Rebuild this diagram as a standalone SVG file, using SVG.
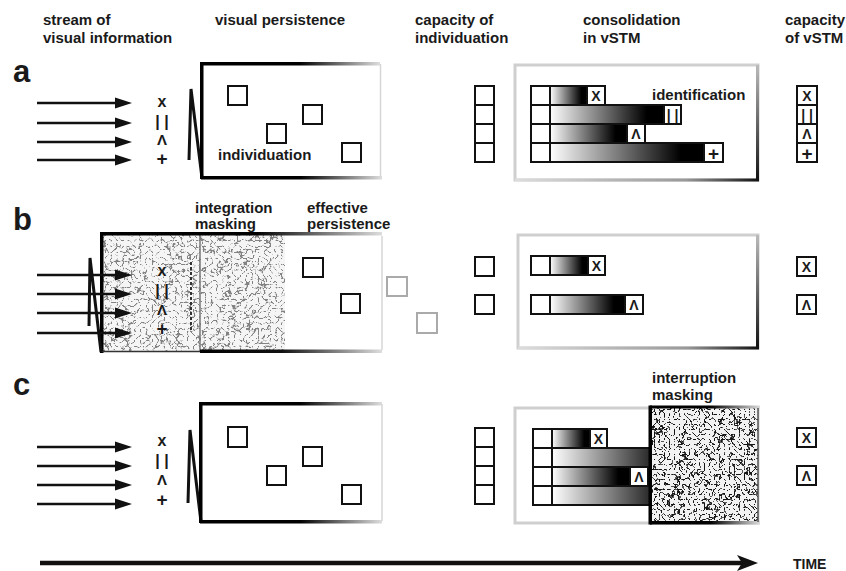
<svg xmlns="http://www.w3.org/2000/svg" width="846" height="571" viewBox="0 0 846 571">
<style>
.lbl{font-family:"Liberation Sans",Arial,Helvetica,sans-serif;font-weight:bold;font-size:15px;fill:#1a1a1a}
.big{font-size:31px}
.sym{font-size:16px;text-anchor:middle}
.lam{font-size:15px;text-anchor:middle}
.pl{font-size:19px;text-anchor:middle}
.bs{font-size:14px;text-anchor:middle}
.bp{font-size:19px;text-anchor:middle}
.bx{fill:#fff;stroke:#111;stroke-width:2}
.bo{stroke:#111;stroke-width:2}
.sq{fill:none;stroke:#111;stroke-width:2}
.gsq{fill:none;stroke:#aaa;stroke-width:2}
.arr{stroke:#111;stroke-width:2.5;fill:none;marker-end:url(#ah)}
.zz{fill:none;stroke:#111;stroke-width:3;stroke-linejoin:miter}
.cb{fill:none;stroke:#cfcfcf;stroke-width:3}
</style>
<defs>
<marker id="ah" markerUnits="userSpaceOnUse" markerWidth="18" markerHeight="12" refX="10" refY="6" orient="auto">
<path d="M0,0.5 L17,6 L0,11.5 z" fill="#111"/>
</marker>
<linearGradient id="gEdge" x1="0" y1="0" x2="1" y2="0">
<stop offset="0" stop-color="#000"/><stop offset="0.55" stop-color="#000"/><stop offset="1" stop-color="#ddd"/>
</linearGradient>
<linearGradient id="gEdge2" x1="0" y1="0" x2="1" y2="0">
<stop offset="0" stop-color="#000"/><stop offset="0.45" stop-color="#111"/><stop offset="1" stop-color="#ddd"/>
</linearGradient>
<linearGradient id="gBar" x1="0" y1="0" x2="1" y2="0">
<stop offset="0" stop-color="#fff"/><stop offset="0.85" stop-color="#000"/><stop offset="1" stop-color="#000"/>
</linearGradient>
<linearGradient id="gBarF" x1="0" y1="0" x2="1" y2="0">
<stop offset="0" stop-color="#fff"/><stop offset="1" stop-color="#2a2a2a"/>
</linearGradient>
<linearGradient id="gRight" x1="0" y1="0" x2="0" y2="1">
<stop offset="0" stop-color="#bbb"/><stop offset="1" stop-color="#111"/>
</linearGradient>
<linearGradient id="gBot" x1="0" y1="0" x2="1" y2="0">
<stop offset="0" stop-color="#ddd"/><stop offset="0.7" stop-color="#999"/><stop offset="1" stop-color="#111"/>
</linearGradient>
<filter id="nzB" x="0" y="0" width="1" height="1" color-interpolation-filters="sRGB">
<feTurbulence type="turbulence" baseFrequency="0.17" numOctaves="2" seed="7" result="t"/>
<feColorMatrix in="t" type="matrix" values="0 0 0 0 0 0 0 0 0 0 0 0 0 0 0 1 0 0 0 0" result="r"/>
<feComponentTransfer in="r" result="band"><feFuncA type="discrete" tableValues="0.8 0.8 0.3 0 0 0 0 0 0 0 0 0 0 0 0 0 0 0 0 0"/></feComponentTransfer>
<feFlood flood-color="#666" result="col"/>
<feComposite in="col" in2="band" operator="in" result="lines"/>
<feFlood flood-color="#f5f5f5" result="bg"/>
<feMerge><feMergeNode in="bg"/><feMergeNode in="lines"/></feMerge>
</filter>
<filter id="nzC" x="0" y="0" width="1" height="1" color-interpolation-filters="sRGB">
<feTurbulence type="turbulence" baseFrequency="0.2" numOctaves="2" seed="3" result="t"/>
<feColorMatrix in="t" type="matrix" values="0 0 0 0 0 0 0 0 0 0 0 0 0 0 0 1 0 0 0 0" result="r"/>
<feComponentTransfer in="r" result="band"><feFuncA type="discrete" tableValues="1 1 0.7 0 0 0 0 0 0 0 0 0 0 0 0 0 0 0 0 0"/></feComponentTransfer>
<feFlood flood-color="#151515" result="col"/>
<feComposite in="col" in2="band" operator="in" result="lines"/>
<feFlood flood-color="#f2f2f2" result="bg"/>
<feMerge><feMergeNode in="bg"/><feMergeNode in="lines"/></feMerge>
</filter>
</defs>
<rect width="846" height="571" fill="#fff"/>

<g id="headers">
<text class="lbl" x="43" y="25">stream of</text>
<text class="lbl" x="43" y="43">visual information</text>
<text class="lbl" x="215" y="25">visual persistence</text>
<text class="lbl" x="415" y="25">capacity of</text>
<text class="lbl" x="415" y="43">individuation</text>
<text class="lbl" x="583" y="25">consolidation</text>
<text class="lbl" x="583" y="43">in vSTM</text>
<text class="lbl" x="785" y="25">capacity</text>
<text class="lbl" x="785" y="43">of vSTM</text>
<text class="lbl big" x="13" y="82">a</text>
<text class="lbl big" x="13" y="230">b</text>
<text class="lbl big" x="13" y="395">c</text>
</g>

<g id="connectors">
<line class="arr" x1="37" y1="103" x2="125" y2="103"/>
<line class="arr" x1="37" y1="123" x2="125" y2="123"/>
<line class="arr" x1="37" y1="142" x2="125" y2="142"/>
<line class="arr" x1="37" y1="160" x2="125" y2="160"/>
<line class="arr" x1="37" y1="447" x2="125" y2="447"/>
<line class="arr" x1="37" y1="466" x2="125" y2="466"/>
<line class="arr" x1="37" y1="485" x2="125" y2="485"/>
<line class="arr" x1="37" y1="504" x2="125" y2="504"/>
<line x1="40" y1="563" x2="745" y2="563" stroke="#111" stroke-width="4.5"/>
<path d="M737,555 L758,563 L737,571 L742,563 z" fill="#111"/>
<text class="lbl" x="793" y="569" style="font-size:14px">TIME</text>
</g>

<!-- Panel a -->
<g id="a-stream">
<text class="lbl sym" x="162" y="107">x</text>
<text class="lbl sym" x="162" y="127">| |</text>
<text class="lbl lam" x="162" y="145">Λ</text>
<text class="lbl pl" x="162" y="165">+</text>
</g>
<g id="a-persistence">
<polyline class="zz" points="189,160 191,89 202,178"/>
<rect x="201" y="62" width="179" height="3.5" fill="url(#gEdge)"/>
<rect x="201" y="176" width="181" height="3.5" fill="url(#gEdge)"/>
<rect x="200" y="62" width="3.5" height="117" fill="#000"/>
<line x1="380.5" y1="64" x2="380.5" y2="177" stroke="#d6d6d6" stroke-width="1.5"/>
<rect class="sq" x="228" y="86" width="19" height="19"/>
<rect class="sq" x="303" y="105" width="19" height="19"/>
<rect class="sq" x="267" y="124" width="19" height="19"/>
<rect class="sq" x="342" y="143" width="19" height="19"/>
<text class="lbl" x="218" y="160">individuation</text>
</g>
<g id="a-capacity">
<rect class="bx" x="475" y="86" width="19" height="19"/>
<rect class="bx" x="475" y="105" width="19" height="19"/>
<rect class="bx" x="475" y="124" width="19" height="19"/>
<rect class="bx" x="475" y="143" width="19" height="19"/>
</g>
<g id="a-consolidation">
<rect class="cb" x="515" y="65" width="243" height="115"/>
<rect x="756" y="65" width="3" height="116" fill="url(#gRight)"/>
<rect x="515" y="178.5" width="244" height="3" fill="url(#gBot)"/>
<text class="lbl" x="652" y="100">identification</text>
<rect class="bx" x="531" y="86" width="19" height="19"/>
<rect class="bo" x="550" y="86" width="37" height="19" fill="url(#gBar)"/>
<rect class="bx" x="587" y="86" width="18" height="19"/>
<text class="lbl bs" x="596" y="101">X</text>
<rect class="bx" x="531" y="105" width="19" height="19"/>
<rect class="bo" x="550" y="105" width="114" height="19" fill="url(#gBar)"/>
<rect class="bx" x="664" y="105" width="17" height="19"/>
<text class="lbl bs" x="672.5" y="120">| |</text>
<rect class="bx" x="531" y="124" width="19" height="19"/>
<rect class="bo" x="550" y="124" width="77" height="19" fill="url(#gBar)"/>
<rect class="bx" x="627" y="124" width="18" height="19"/>
<text class="lbl bs" x="636" y="139">Λ</text>
<rect class="bx" x="531" y="143" width="19" height="19"/>
<rect class="bo" x="550" y="143" width="154" height="19" fill="url(#gBar)"/>
<rect class="bx" x="704" y="143" width="19" height="19"/>
<text class="lbl bp" x="713.5" y="159.5">+</text>
</g>
<g id="a-vstm">
<rect class="bx" x="797" y="86" width="20" height="19"/>
<text class="lbl bs" x="807" y="101">X</text>
<rect class="bx" x="797" y="105" width="20" height="19"/>
<text class="lbl bs" x="807" y="120">| |</text>
<rect class="bx" x="797" y="124" width="20" height="19"/>
<text class="lbl bs" x="807" y="139">Λ</text>
<rect class="bx" x="797" y="143" width="20" height="19"/>
<text class="lbl bp" x="807" y="159.5">+</text>
</g>

<!-- Panel b -->
<g id="b-persistence">
<rect x="200" y="235" width="182" height="115" fill="#fff"/>
<line x1="382" y1="236" x2="382" y2="350" stroke="#d6d6d6" stroke-width="1.5"/>
<rect x="102" y="233" width="183" height="119" filter="url(#nzB)"/>
<line x1="200" y1="233" x2="200" y2="352" stroke="#777" stroke-width="1.5"/>
<line x1="191" y1="262" x2="191" y2="330" stroke="#333" stroke-width="2" stroke-dasharray="3,2"/>
<rect x="102" y="232" width="280" height="3.5" fill="url(#gEdge)"/>
<rect x="100" y="232" width="3.5" height="121" fill="#000"/>
<line x1="102" y1="351.5" x2="200" y2="351.5" stroke="#333" stroke-width="1.5"/>
<rect x="200" y="349.5" width="182" height="3.5" fill="url(#gEdge2)"/>
<rect class="sq" x="303" y="258" width="20" height="19"/>
<rect class="sq" x="341" y="294" width="19" height="19"/>
<rect class="gsq" x="387" y="277" width="20" height="19"/>
<rect class="gsq" x="417" y="313" width="20" height="20"/>
<text class="lbl" x="195" y="213">integration</text>
<text class="lbl" x="195" y="229">masking</text>
<text class="lbl" x="307" y="213">effective</text>
<text class="lbl" x="307" y="229">persistence</text>
</g>
<g id="b-stream">
<polyline class="zz" points="89,326 90,258 101,352"/>
<line class="arr" x1="37" y1="275" x2="125" y2="275"/>
<line class="arr" x1="37" y1="294" x2="125" y2="294"/>
<line class="arr" x1="37" y1="313" x2="125" y2="313"/>
<line class="arr" x1="37" y1="333" x2="125" y2="333"/>
<text class="lbl sym" x="162" y="276">x</text>
<text class="lbl sym" x="162" y="296">| |</text>
<text class="lbl lam" x="162" y="315">Λ</text>
<text class="lbl pl" x="162" y="335">+</text>
</g>
<g id="b-capacity">
<rect class="bx" x="475" y="257" width="19" height="19"/>
<rect class="bx" x="475" y="295" width="19" height="19"/>
</g>
<g id="b-consolidation">
<rect class="cb" x="518" y="235" width="240" height="113"/>
<rect x="756" y="235" width="3" height="114" fill="url(#gRight)"/>
<rect x="518" y="346.5" width="241" height="3" fill="url(#gBot)"/>
<rect class="bx" x="531" y="256" width="19" height="19"/>
<rect class="bo" x="550" y="256" width="38" height="19" fill="url(#gBar)"/>
<rect class="bx" x="588" y="256" width="17" height="19"/>
<text class="lbl bs" x="596.5" y="271">X</text>
<rect class="bx" x="531" y="295" width="19" height="19"/>
<rect class="bo" x="550" y="295" width="75" height="19" fill="url(#gBar)"/>
<rect class="bx" x="625" y="295" width="18" height="19"/>
<text class="lbl bs" x="634" y="310">Λ</text>
</g>
<g id="b-vstm">
<rect class="bx" x="797" y="257" width="19" height="19"/>
<text class="lbl bs" x="806.5" y="272">X</text>
<rect class="bx" x="797" y="295" width="19" height="19"/>
<text class="lbl bs" x="806.5" y="310">Λ</text>
</g>

<!-- Panel c -->
<g id="c-stream">
<text class="lbl sym" x="162" y="446">x</text>
<text class="lbl sym" x="162" y="466">| |</text>
<text class="lbl lam" x="162" y="485">Λ</text>
<text class="lbl pl" x="162" y="506">+</text>
</g>
<g id="c-persistence">
<polyline class="zz" points="188,503 190,430 201,522"/>
<rect x="200" y="402" width="182" height="3.5" fill="url(#gEdge)"/>
<rect x="200" y="520" width="182" height="3.5" fill="url(#gEdge)"/>
<rect x="199" y="402" width="3.5" height="121" fill="#000"/>
<line x1="382" y1="404" x2="382" y2="521" stroke="#d6d6d6" stroke-width="1.5"/>
<rect class="sq" x="228" y="427" width="19" height="20"/>
<rect class="sq" x="303" y="447" width="19" height="19"/>
<rect class="sq" x="267" y="466" width="19" height="19"/>
<rect class="sq" x="342" y="485" width="19" height="19"/>
</g>
<g id="c-capacity">
<rect class="bx" x="475" y="428" width="19" height="19"/>
<rect class="bx" x="475" y="447" width="19" height="19"/>
<rect class="bx" x="475" y="466" width="19" height="19"/>
<rect class="bx" x="475" y="485" width="19" height="19"/>
</g>
<g id="c-consolidation">
<rect class="cb" x="515" y="408" width="243" height="115"/>
<rect class="bx" x="533" y="429" width="19" height="19"/>
<rect class="bo" x="552" y="429" width="38" height="19" fill="url(#gBar)"/>
<rect class="bx" x="590" y="429" width="17" height="19"/>
<text class="lbl bs" x="598.5" y="444">X</text>
<rect class="bx" x="533" y="448" width="19" height="19"/>
<rect class="bo" x="552" y="448" width="98" height="19" fill="url(#gBarF)"/>
<rect class="bx" x="533" y="467" width="19" height="19"/>
<rect class="bo" x="552" y="467" width="78" height="19" fill="url(#gBar)"/>
<rect class="bx" x="630" y="467" width="18" height="19"/>
<text class="lbl bs" x="639" y="482">Λ</text>
<rect class="bx" x="533" y="486" width="19" height="19"/>
<rect class="bo" x="552" y="486" width="98" height="19" fill="url(#gBarF)"/>
</g>
<g id="c-mask">
<rect x="650" y="407" width="108" height="116" filter="url(#nzC)"/>
<rect x="650" y="405.5" width="110" height="3" fill="url(#gEdge)"/>
<rect x="650" y="521" width="110" height="3.5" fill="url(#gEdge)"/>
<rect x="648.5" y="405.5" width="3.5" height="119" fill="#000"/>
<line x1="758" y1="408" x2="758" y2="522" stroke="#555" stroke-width="1.5"/>
<text class="lbl" x="652" y="383">interruption</text>
<text class="lbl" x="652" y="400">masking</text>
</g>
<g id="c-vstm">
<rect class="bx" x="797" y="428" width="19" height="19"/>
<text class="lbl bs" x="806.5" y="443">X</text>
<rect class="bx" x="797" y="466" width="19" height="19"/>
<text class="lbl bs" x="806.5" y="481">Λ</text>
</g>
</svg>
